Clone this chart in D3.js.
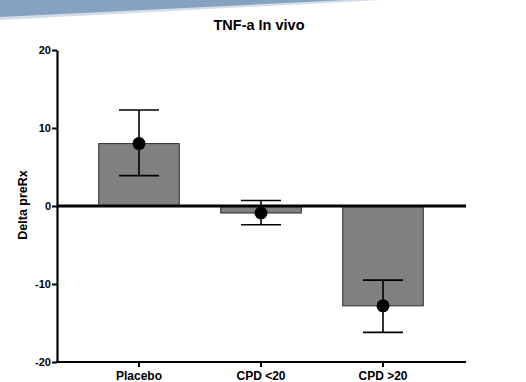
<!DOCTYPE html>
<html>
<head>
<meta charset="utf-8">
<script src="https://cdn.jsdelivr.net/npm/d3@7"></script>
<style>
  html, body { margin: 0; padding: 0; background: #fff; }
  svg { display: block; font-family: "Liberation Sans", Arial, sans-serif; }
</style>
</head>
<body>
<svg id="chart" width="526" height="382"></svg>
<script>
// Group names, group means and the error bar ends (mean ± SEM)
const categories = ["Placebo", "CPD <20", "CPD >20"];
const means = [8.0, -0.9, -12.8];
const errHigh = [12.3, 0.7, -9.5];
const errLow = [3.9, -2.4, -16.2];
const yTicks = [-20, -10, 0, 10, 20];

const svg = d3.select("#chart");

// Decorative slanted banner across the top
svg.append("polygon")
  .attr("points", "0,0 382,0 0,20")
  .attr("fill", "#d3dde8");
svg.append("polygon")
  .attr("points", "0,0 345,0 0,17")
  .attr("fill", "#85a2c1");

const plotLeft = 57, plotRight = 466, plotTop = 50, plotBottom = 362;

const y = d3.scaleLinear().domain([-20, 20]).range([plotBottom, plotTop]);
const x = d3.scaleBand()
  .domain(categories)
  .range([78, 444])
  .paddingInner(0.34)
  .paddingOuter(0.17);

// Title
svg.append("text")
  .attr("x", 259).attr("y", 30)
  .attr("text-anchor", "middle")
  .attr("font-size", 14.5).attr("font-weight", "bold")
  .text("TNF-a In vivo");

// Y axis title
svg.append("text")
  .attr("transform", `translate(27,205) rotate(-90)`)
  .attr("text-anchor", "middle")
  .attr("font-size", 12.5).attr("font-weight", "bold")
  .text("Delta preRx");

// Bars
svg.selectAll("rect.bar")
  .data(categories)
  .join("rect")
  .attr("class", "bar")
  .attr("x", d => x(d))
  .attr("width", x.bandwidth())
  .attr("y", (d, i) => y(Math.max(0, means[i])))
  .attr("height", (d, i) => Math.abs(y(means[i]) - y(0)))
  .attr("fill", "#808080")
  .attr("stroke", "#2a2a2a")
  .attr("stroke-width", 1);

// Y axis (plain hyphen for negative labels)
const yAxis = svg.append("g")
  .attr("transform", `translate(${plotLeft},0)`)
  .call(d3.axisLeft(y).tickValues(yTicks).tickSize(5).tickSizeOuter(0).tickFormat(d => String(d)));
yAxis.select(".domain").attr("stroke-width", 2.2);
yAxis.selectAll(".tick line").attr("stroke-width", 2);
yAxis.selectAll(".tick text")
  .attr("font-size", 11).attr("font-weight", "bold")
  .attr("font-family", "Liberation Sans, Arial, sans-serif")
  .attr("x", -6).attr("fill", "#000");

// X axis at the bottom
const xAxis = svg.append("g")
  .attr("transform", `translate(0,${plotBottom})`)
  .call(d3.axisBottom(x).tickSize(5).tickSizeOuter(0));
xAxis.select(".domain").remove();
xAxis.selectAll(".tick line").attr("stroke-width", 2);
xAxis.selectAll(".tick text")
  .attr("font-size", 12).attr("font-weight", "bold")
  .attr("font-family", "Liberation Sans, Arial, sans-serif")
  .attr("y", 9).attr("dy", "0.71em").attr("fill", "#000");
svg.append("line")
  .attr("x1", plotLeft - 1).attr("x2", plotRight)
  .attr("y1", y(-20)).attr("y2", y(-20))
  .attr("stroke", "#000").attr("stroke-width", 2.2);

// Zero line
svg.append("line")
  .attr("x1", plotLeft).attr("x2", plotRight)
  .attr("y1", y(0)).attr("y2", y(0))
  .attr("stroke", "#000").attr("stroke-width", 3);

// Error bars
const cx = d => x(d) + x.bandwidth() / 2;
const capHalf = 20;
const eb = svg.append("g").attr("stroke", "#000").attr("stroke-width", 1.6);
eb.selectAll("line.stem").data(categories).join("line")
  .attr("class", "stem")
  .attr("x1", cx).attr("x2", cx)
  .attr("y1", (d, i) => y(errHigh[i])).attr("y2", (d, i) => y(errLow[i]));
eb.selectAll("line.capHi").data(categories).join("line")
  .attr("class", "capHi")
  .attr("x1", d => cx(d) - capHalf).attr("x2", d => cx(d) + capHalf)
  .attr("y1", (d, i) => y(errHigh[i])).attr("y2", (d, i) => y(errHigh[i]));
eb.selectAll("line.capLo").data(categories).join("line")
  .attr("class", "capLo")
  .attr("x1", d => cx(d) - capHalf).attr("x2", d => cx(d) + capHalf)
  .attr("y1", (d, i) => y(errLow[i])).attr("y2", (d, i) => y(errLow[i]));

// Mean points
svg.selectAll("circle.mean").data(categories).join("circle")
  .attr("class", "mean")
  .attr("cx", cx)
  .attr("cy", (d, i) => y(means[i]))
  .attr("r", 6.5)
  .attr("fill", "#000");
</script>
</body>
</html>
